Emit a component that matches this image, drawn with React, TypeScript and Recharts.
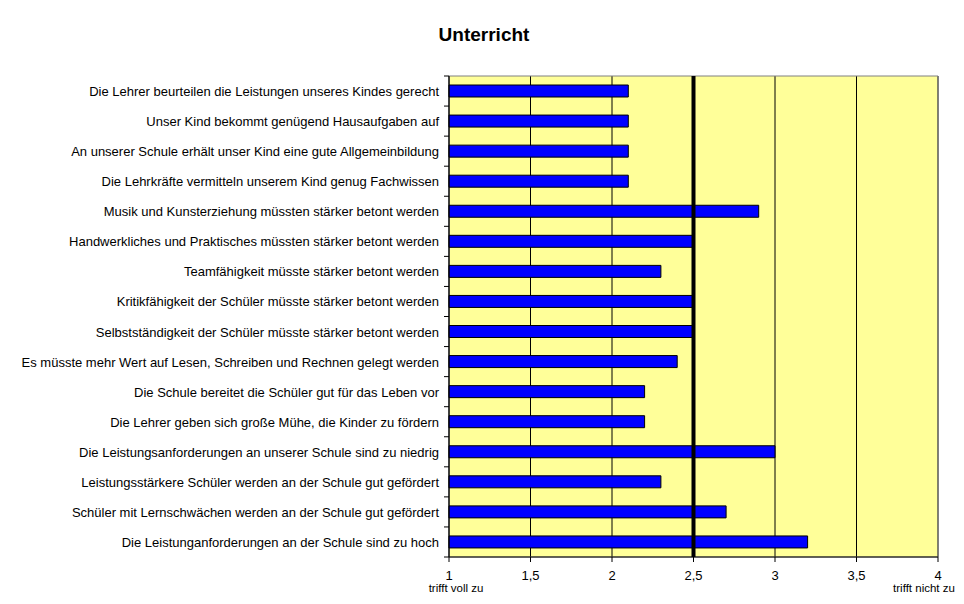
import React from "react";
import {
  BarChart,
  Bar,
  XAxis,
  YAxis,
  CartesianGrid,
  ReferenceLine,
  ReferenceArea,
} from "recharts";

const categories = [
  "Die Lehrer beurteilen die Leistungen unseres Kindes gerecht",
  "Unser Kind bekommt genügend Hausaufgaben auf",
  "An unserer Schule erhält unser Kind eine gute Allgemeinbildung",
  "Die Lehrkräfte vermitteln unserem Kind genug Fachwissen",
  "Musik und Kunsterziehung müssten stärker betont werden",
  "Handwerkliches und Praktisches müssten stärker betont werden",
  "Teamfähigkeit müsste stärker betont werden",
  "Kritikfähigkeit der Schüler müsste stärker betont werden",
  "Selbstständigkeit der Schüler müsste stärker betont werden",
  "Es müsste mehr Wert auf Lesen, Schreiben und Rechnen gelegt werden",
  "Die Schule bereitet die Schüler gut für das Leben vor",
  "Die Lehrer geben sich große Mühe, die Kinder zu fördern",
  "Die Leistungsanforderungen an unserer Schule sind zu niedrig",
  "Leistungsstärkere Schüler werden an der Schule gut gefördert",
  "Schüler mit Lernschwächen werden an der Schule gut gefördert",
  "Die Leistunganforderungen an der Schule sind zu hoch",
];

const values = [2.1, 2.1, 2.1, 2.1, 2.9, 2.5, 2.3, 2.5, 2.5, 2.4, 2.2, 2.2, 3.0, 2.3, 2.7, 3.2];

const xTicks = [1, 1.5, 2, 2.5, 3, 3.5, 4];
const xSubLabels: Record<number, string> = { 1: "trifft voll zu", 4: "trifft nicht zu" };
const meanLine = 2.5;

const data = categories.map((name, i) => ({ name, value: values[i] }));

const W = 964;
const H = 604;
const PLOT_LEFT = 449;
const PLOT_TOP = 76;
const PLOT_RIGHT = 938;
const PLOT_BOTTOM = 557;
const BAND = (PLOT_BOTTOM - PLOT_TOP) / categories.length;
const FONT = "'Liberation Sans', Arial, sans-serif";

function CategoryTick(props: any) {
  const { y, payload, index } = props;
  const top = y - BAND / 2;
  return (
    <g>
      <line x1={PLOT_LEFT - 5} x2={PLOT_LEFT} y1={top} y2={top} stroke="#000" />
      {index === categories.length - 1 && (
        <line x1={PLOT_LEFT - 5} x2={PLOT_LEFT} y1={top + BAND} y2={top + BAND} stroke="#000" />
      )}
      <text
        x={PLOT_LEFT - 10}
        y={y}
        dy={5}
        textAnchor="end"
        fontSize={13}
        fontFamily={FONT}
        fill="#000"
      >
        {payload.value}
      </text>
    </g>
  );
}

function ValueTick(props: any) {
  const { x, payload } = props;
  const sub = xSubLabels[payload.value];
  return (
    <g>
      <text x={x} y={PLOT_BOTTOM + 23} textAnchor="middle" fontSize={13} fontFamily={FONT} fill="#000">
        {String(payload.value).replace(".", ",")}
      </text>
      {sub && (
        <text
          x={payload.value === 4 ? x - 14 : x + 7}
          y={PLOT_BOTTOM + 35}
          textAnchor="middle"
          fontSize={11.5}
          fontFamily={FONT}
          fill="#000"
        >
          {sub}
        </text>
      )}
    </g>
  );
}

export default function App() {
  return (
    <div style={{ position: "absolute", left: 0, top: 0, width: W, height: H, background: "#fff" }}>
      <div
        style={{
          position: "absolute",
          left: 0,
          width: 968,
          top: 24,
          textAlign: "center",
          fontFamily: FONT,
          fontWeight: "bold",
          fontSize: 19,
        }}
      >
        Unterricht
      </div>
      <BarChart
        width={W}
        height={H}
        data={data}
        layout="vertical"
        margin={{ top: PLOT_TOP, right: W - PLOT_RIGHT, bottom: 0, left: 0 }}
        barCategoryGap={9}
      >
        <CartesianGrid horizontal={false} stroke="#000" fill="#FFFF99" fillOpacity={1} />
        <ReferenceArea x1={1} x2={4} fill="none" stroke="#808080" strokeWidth={1} />
        <XAxis
          type="number"
          domain={[1, 4]}
          ticks={xTicks}
          height={H - PLOT_BOTTOM}
          axisLine={{ stroke: "#000" }}
          tickLine={{ stroke: "#000" }}
          tickSize={5}
          tick={<ValueTick />}
          interval={0}
        />
        <YAxis
          type="category"
          dataKey="name"
          width={PLOT_LEFT}
          axisLine={{ stroke: "#000" }}
          tickLine={false}
          tick={<CategoryTick />}
          interval={0}
        />
        <Bar dataKey="value" fill="#0000FF" stroke="#000" strokeWidth={1} barSize={12} isAnimationActive={false} />
        <ReferenceLine x={meanLine} stroke="#000" strokeWidth={4} />
      </BarChart>
    </div>
  );
}
